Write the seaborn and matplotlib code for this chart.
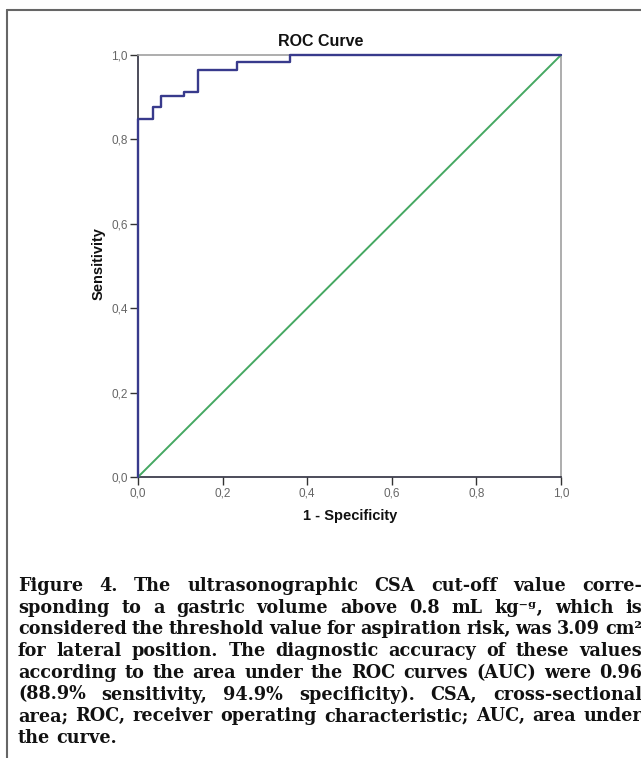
import pandas as pd
import seaborn as sns
import matplotlib.pyplot as plt
from matplotlib.lines import Line2D

# ROC curve (step points)
fpr = [0.0, 0.0, 0.035, 0.035, 0.054, 0.054, 0.109, 0.109, 0.143, 0.143,
       0.233, 0.233, 0.359, 0.359, 1.0]
tpr = [0.0, 0.848, 0.848, 0.876, 0.876, 0.903, 0.903, 0.913, 0.913, 0.964,
       0.964, 0.983, 0.983, 1.0, 1.0]
ref_line = [0.0, 1.0]
ticks = [0.0, 0.2, 0.4, 0.6, 0.8, 1.0]
tick_labels = ['0,0', '0,2', '0,4', '0,6', '0,8', '1,0']

caption_lines = [
    "Figure 4. The ultrasonographic CSA cut-off value corre-",
    "sponding to a gastric volume above 0.8 mL kg\u207b\u1d4d, which is",
    "considered the threshold value for aspiration risk, was 3.09 cm\u00b2",
    "for lateral position. The diagnostic accuracy of these values",
    "according to the area under the ROC curves (AUC) were 0.96",
    "(88.9% sensitivity, 94.9% specificity). CSA, cross-sectional",
    "area; ROC, receiver operating characteristic; AUC, area under",
    "the curve.",
]

sns.set_theme(style='white')
plt.rcParams['font.family'] = ['Liberation Sans', 'DejaVu Sans']

W, H = 641, 758
fig = plt.figure(figsize=(W / 100, H / 100), dpi=100)
ax = fig.add_axes([138 / W, 1 - 477 / H, 423 / W, 422 / H])

sns.lineplot(x=ref_line, y=ref_line, color='#45a862', lw=1.4, ax=ax)
roc = pd.DataFrame({'fpr': fpr, 'tpr': tpr})
sns.lineplot(data=roc, x='fpr', y='tpr', sort=False, estimator=None,
             color='#383a8c', lw=1.7, ax=ax)
for ln in ax.lines:
    ln.set_clip_on(False)
    ln.set_zorder(3)

ax.set_xlim(0, 1)
ax.set_ylim(0, 1)
ax.set_xticks(ticks)
ax.set_xticklabels(tick_labels)
ax.set_yticks(ticks)
ax.set_yticklabels(tick_labels)
ax.set_xlabel('')
ax.set_ylabel('')
ax.tick_params(bottom=True, left=True, direction='out', length=6, width=1,
               color='#333333', labelsize=8.5, labelcolor='#666666', pad=1.5)
for s in ['left', 'bottom']:
    ax.spines[s].set_color('#2e2e3e')
    ax.spines[s].set_linewidth(1.2)
for s in ['top', 'right']:
    ax.spines[s].set_color('#a0a0a0')
    ax.spines[s].set_linewidth(1.2)

fig.text(321 / W, 1 - 42 / H, 'ROC Curve', ha='center', va='center',
         fontsize=11.5, fontweight='bold', color='#111111')
fig.text(99 / W, 1 - 264 / H, 'Sensitivity', ha='center', va='center',
         rotation=90, fontsize=10.5, fontweight='bold', color='#111111')
fig.text(350 / W, 1 - 516 / H, '1 - Specificity', ha='center', va='center',
         fontsize=10.5, fontweight='bold', color='#111111')

# outer frame (left and top edges)
fig.add_artist(Line2D([7 / W, 7 / W], [0, 1 - 10 / H], transform=fig.transFigure,
                      color='#666666', lw=1.5))
fig.add_artist(Line2D([7 / W, 1], [1 - 10 / H, 1 - 10 / H], transform=fig.transFigure,
                      color='#666666', lw=1.5))

# justified caption
cap_props = dict(family=['DejaVu Serif', 'DejaVu Sans'],
                 fontweight='bold', color='#111111', va='baseline', ha='left')
renderer = fig.canvas.get_renderer()


def text_width(s, fs):
    t = fig.text(0, 0, s, fontsize=fs, **cap_props)
    w = t.get_window_extent(renderer).width
    t.remove()
    return w


left_px, right_px = 18, 642
fs = 12
fs = fs * 632 / text_width(caption_lines[2], fs)
base0, step = 591, 21.7
for i, line in enumerate(caption_lines):
    words = line.split(' ')
    widths = [text_width(w, fs) for w in words]
    space = text_width('x x', fs) - text_width('xx', fs)
    if i < len(caption_lines) - 1:
        gap = (right_px - left_px - sum(widths)) / (len(words) - 1)
        gap = max(gap, space * 0.6)
    else:
        gap = space
    x = left_px
    y = base0 + i * step
    for w, wd in zip(words, widths):
        fig.text(x / W, 1 - y / H, w, fontsize=fs, **cap_props)
        x += wd + gap

fig.savefig('out.png', dpi=100)
